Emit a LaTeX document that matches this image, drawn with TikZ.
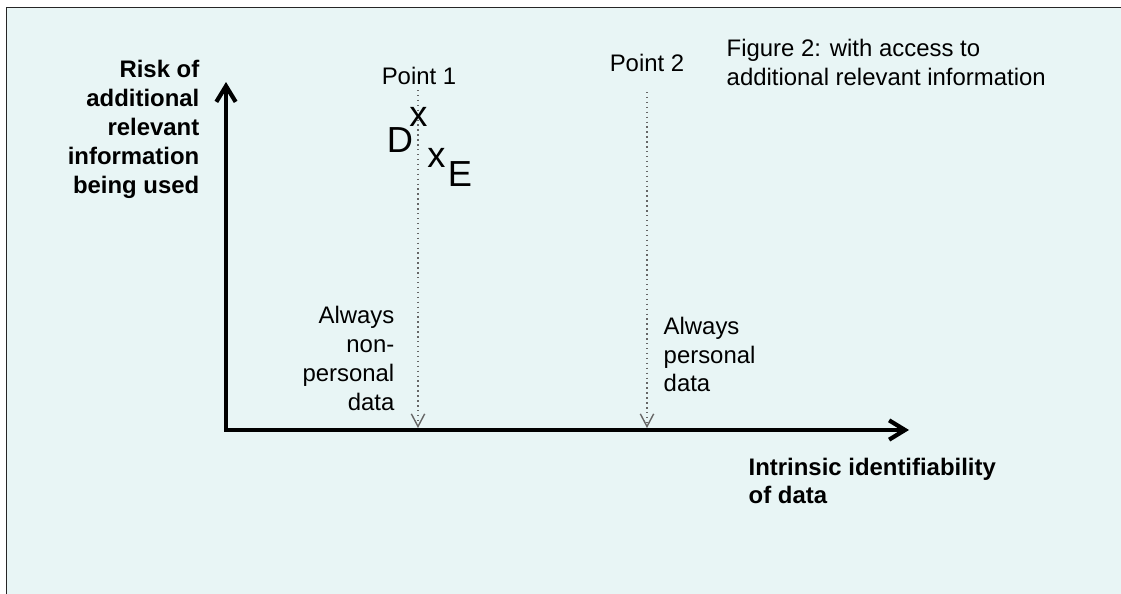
\documentclass[tikz,border=0pt]{standalone}
\usepackage{fontspec}
\setmainfont{Liberation Sans}
\usetikzlibrary{arrows.meta}
\definecolor{panelbg}{HTML}{E8F5F5}
\newcommand{\smalltxt}{\fontsize{6.8}{8.2}\selectfont}
\newcommand{\lettertxt}{\fontsize{10.3}{12}\selectfont}
\begin{document}
\begin{tikzpicture}[x=0.01cm, y=-0.01cm,
    axis/.style = {line width=1.2pt, line join=miter,
        {Straight Barb[length=4.5pt,width=5.5pt]}-{Straight Barb[length=4.5pt,width=5.5pt]}},
    marker/.style = {densely dotted, line width=0.4pt, black!60,
        -{Straight Barb[length=3.6pt,width=3.8pt]}},
    label/.style = {inner sep=0pt, font=\smalltxt},
    letter/.style = {inner sep=0pt, font=\lettertxt}]
    \useasboundingbox (0,0) rectangle (1121,594);
    \fill[white] (0,0) rectangle (1121,594);
    \draw[fill=panelbg, draw=black!85, line width=0.45pt] (6.5,7.5) rectangle (1130,604);

    % axes
    \coordinate (origin) at (226,430);
    \coordinate (ytip)   at (226,82);
    \coordinate (xtip)   at (909,430);
    \draw[axis] (ytip) -- (origin) -- (xtip);

    \node[label, anchor=east, align=right, font=\smalltxt\bfseries] (risk) at (200,129.5)
        {Risk of\\additional\\relevant\\information\\being used};
    \node[label, anchor=west, align=left, font=\smalltxt\bfseries] (ident) at (748,481)
        {Intrinsic identifiability\\of data};

    % the two points
    \coordinate (p1top)  at (418,90);
    \coordinate (p1foot) at (418,428);
    \coordinate (p2top)  at (647,92);
    \coordinate (p2foot) at (647,428);
    \draw[marker] (p1top) -- (p1foot);
    \draw[marker] (p2top) -- (p2foot);

    \node[label] (pointone) at (419,76) {Point 1};
    \node[label] (pointtwo) at (647,63) {Point 2};
    \node[label, anchor=east, align=right] (nonpers) at (395,358.5)
        {Always\\non-\\personal\\data};
    \node[label, anchor=west, align=left] (pers) at (663,354.5)
        {Always\\personal\\data};

    \node[label, anchor=west, align=left] (caption) at (726,62.5)
        {Figure 2: with access to\\additional relevant information};

    % positions D and E
    \node[letter] (dlabel) at (400,140)   {D};
    \node[letter] (dmark)  at (418.5,116.5) {x};
    \node[letter] (emark)  at (436.5,157.5) {x};
    \node[letter] (elabel) at (460,174.5) {E};
\end{tikzpicture}
\end{document}
